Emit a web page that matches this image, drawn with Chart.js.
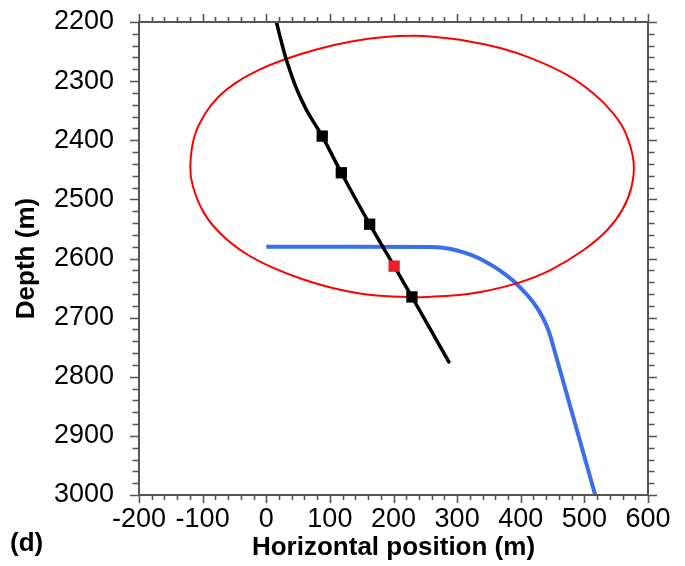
<!DOCTYPE html>
<html>
<head>
<meta charset="utf-8">
<script src="https://cdn.jsdelivr.net/npm/chart.js@4/dist/chart.umd.min.js"></script>
<style>
  html, body { margin: 0; padding: 0; background: #ffffff; }
  #c { display: block; }
</style>
</head>
<body>
<canvas id="c" width="685" height="566"></canvas>
<script>
// ---- data ----
const xTicks = [-200, -100, 0, 100, 200, 300, 400, 500, 600];
const depthTicks = [2200, 2300, 2400, 2500, 2600, 2700, 2800, 2900, 3000];

// well trajectory (black)
const wellX =     [16,   22.7, 31.4, 46.6, 63.3, 76,   88,   118,  162.5, 201,  229,  287];
const wellDepth = [2200, 2229, 2263, 2310, 2349, 2372, 2393, 2455, 2542,  2613, 2665, 2775];

// black square markers
const markerX =     [88,   118,  162.5, 229];
const markerDepth = [2393, 2455, 2542,  2665];

// red square marker
const redMarkerX =     [201];
const redMarkerDepth = [2613];

// blue trajectory
const blueX =     [0,    262,  288,    313,    335,  356,    374,    389.5, 403,    415.5,  427,    436.5, 444.5,  451,  517];
const blueDepth = [2580, 2580.5, 2583.5, 2590.5, 2600, 2612.5, 2625.5, 2639,  2653.5, 2668.5, 2685.5, 2704,  2724.5, 2748, 3000];

// red ellipse outline (points traced around it, closed)
const ellipseX =     [236,    288.3,  340.9,  397,    446.6,  498.3,  535.6,  559.7,  574,  577.4, 565,    545,  514.3,  472.7,  418,    367.7, 315,  262,  233,    186.1,  134,  80.3, 28.4,   -12.3,  -49.7,  -75.1,  -95.7,  -113,   -119.4, -115, -97.3,  -70.1,  -33.5,  7.6,    54.8,   107.6,  165.1,  236];
const ellipseDepth = [2665.6, 2663.2, 2655.8, 2640.8, 2619.5, 2586.1, 2552.2, 2517.7, 2479, 2437,  2388.2, 2354, 2320.9, 2289.5, 2261.9, 2244,  2232, 2225, 2223.4, 2225.4, 2233, 2246, 2263.5, 2281.5, 2304.1, 2326.4, 2354.4, 2393.8, 2445,   2479, 2524.1, 2559.7, 2590.7, 2614.3, 2634.2, 2650.6, 2661.6, 2665.6];

const xTitle = 'Horizontal position (m)';
const yTitle = 'Depth (m)';
const panelLabel = '(d)';

function pts(xs, ys) { return xs.map((x, i) => ({ x: x, y: ys[i] })); }

const FONT = "'Liberation Sans', Arial, sans-serif";
const AXIS_COLOR = '#555555';

const framePlugin = {
  id: 'frameTicks',
  afterDraw(chart) {
    const ctx = chart.ctx;
    const { left, right, top, bottom } = chart.chartArea;
    const xs = chart.scales.x, ys = chart.scales.y;
    ctx.save();
    ctx.strokeStyle = AXIS_COLOR;
    ctx.lineWidth = 2;
    ctx.beginPath();
    ctx.rect(left, top, right - left, bottom - top);
    ctx.stroke();
    ctx.lineWidth = 1.6;
    ctx.beginPath();
    for (let v = xs.min; v <= xs.max + 1e-6; v += 20) {
      const p = Math.round(xs.getPixelForValue(v)) + 0.5;
      const len = (Math.abs(v % 100) < 1e-6) ? 8 : 5;
      ctx.moveTo(p, bottom); ctx.lineTo(p, bottom + len);
      ctx.moveTo(p, top); ctx.lineTo(p, top - len);
    }
    for (let v = ys.min; v <= ys.max + 1e-6; v += 20) {
      const p = Math.round(ys.getPixelForValue(v)) + 0.5;
      const len = (Math.abs(v % 100) < 1e-6) ? 9 : 6.5;
      ctx.moveTo(left, p); ctx.lineTo(left - len, p);
      ctx.moveTo(right, p); ctx.lineTo(right + len, p);
    }
    ctx.stroke();
    ctx.fillStyle = '#000';
    ctx.font = "bold 26px " + FONT;
    ctx.textBaseline = 'alphabetic';
    ctx.textAlign = 'left';
    ctx.fillText(panelLabel, 10, 551);
    ctx.restore();
  }
};

new Chart(document.getElementById('c'), {
  type: 'scatter',
  data: {
    datasets: [
      { label: 'markers', data: pts(markerX, markerDepth), showLine: false,
        pointStyle: 'rect', pointRadius: 8, pointHoverRadius: 8,
        backgroundColor: '#000000', borderColor: '#000000', borderWidth: 0, order: 0 },
      { label: 'red marker', data: pts(redMarkerX, redMarkerDepth), showLine: false,
        pointStyle: 'rect', pointRadius: 8, pointHoverRadius: 8,
        backgroundColor: '#e8202a', borderColor: '#e8202a', borderWidth: 0, order: 0 },
      { label: 'well', data: pts(wellX, wellDepth), showLine: true,
        borderColor: '#000000', borderWidth: 3.5, pointRadius: 0,
        tension: 0.35, borderCapStyle: 'round', order: 1 },
      { label: 'ellipse', data: pts(ellipseX, ellipseDepth), showLine: true,
        borderColor: '#ff0000', borderWidth: 2, pointRadius: 0, tension: 0.35, order: 2 },
      { label: 'blue', data: pts(blueX, blueDepth), showLine: true,
        borderColor: '#3a6df0', borderWidth: 4, pointRadius: 0,
        tension: 0.3, order: 3 }
    ]
  },
  options: {
    responsive: false,
    animation: false,
    devicePixelRatio: 1,
    layout: { padding: { top: 22, right: 37, left: 0, bottom: 0 } },
    plugins: { legend: { display: false }, tooltip: { enabled: false } },
    scales: {
      x: {
        type: 'linear', min: -200, max: 600,
        afterBuildTicks: (s) => { s.ticks = xTicks.map(v => ({ value: v })); },
        afterFit: (s) => { s.height = 71; s.paddingLeft = 0; s.paddingRight = 0; },
        grid: { display: false, drawTicks: false },
        border: { display: false },
        ticks: { font: { family: FONT, size: 27 }, color: '#000', padding: 8, maxRotation: 0, autoSkip: false,
                 callback: (v) => String(v) },
        title: { display: true, text: xTitle, color: '#000',
                 font: { family: FONT, size: 26, weight: 'bold' }, padding: { top: 0, bottom: 3 } }
      },
      y: {
        type: 'linear', reverse: true, min: 2200, max: 3000,
        afterBuildTicks: (s) => { s.ticks = depthTicks.map(v => ({ value: v })); },
        afterFit: (s) => { s.width = 139; s.paddingTop = 0; s.paddingBottom = 0; },
        grid: { display: false, drawTicks: false },
        border: { display: false },
        ticks: { font: { family: FONT, size: 27 }, color: '#000', padding: 25, autoSkip: false,
                 callback: (v) => String(v) },
        title: { display: true, text: yTitle, color: '#000',
                 font: { family: FONT, size: 26, weight: 'bold' }, padding: { top: 11, bottom: 0 } }
      }
    }
  },
  plugins: [framePlugin]
});
</script>
</body>
</html>
